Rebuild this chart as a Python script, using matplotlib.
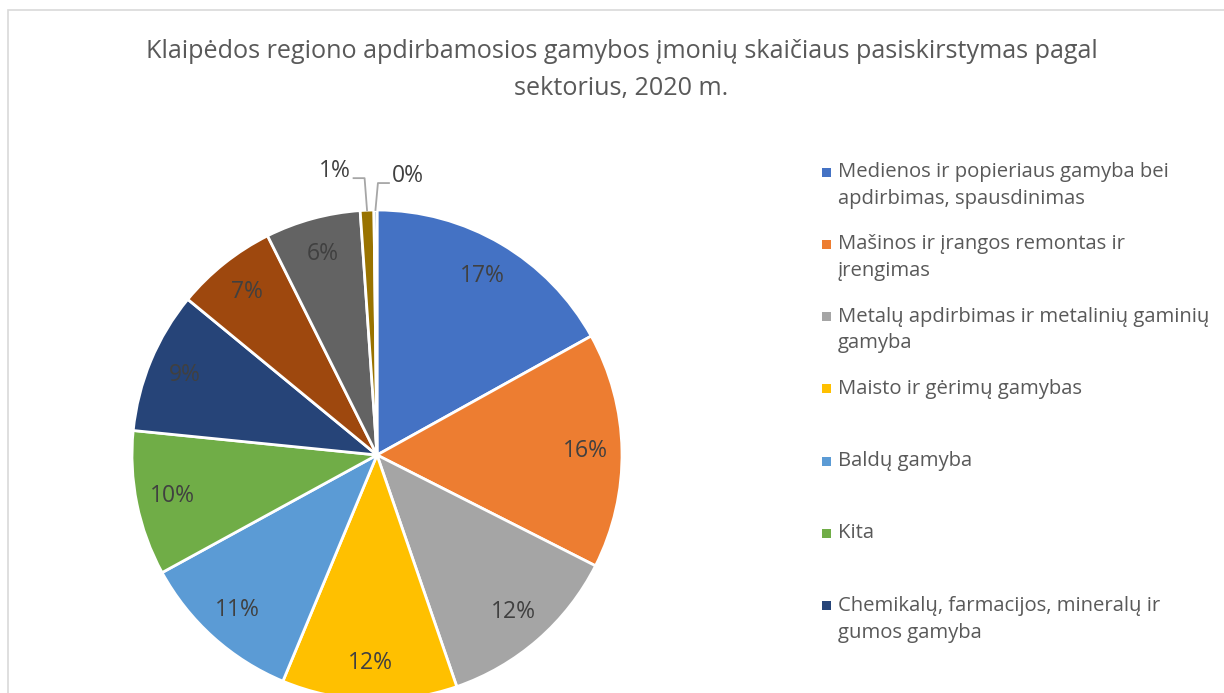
import matplotlib
matplotlib.use("Agg")
import matplotlib.pyplot as plt
from matplotlib.patches import Rectangle
import numpy as np

plt.rcParams['font.family'] = ['Open Sans', 'DejaVu Sans']

title = "Klaipėdos regiono apdirbamosios gamybos įmonių skaičiaus pasiskirstymas pagal\nsektorius, 2020 m."
values = [17.0, 15.6, 12.3, 11.6, 10.8, 9.6, 9.4, 6.7, 6.3, 0.9, 0.2]
colors = ['#4472C4', '#ED7D31', '#A5A5A5', '#FFC000', '#5B9BD5', '#70AD47',
          '#264478', '#9E480E', '#636363', '#997300', '#255E91']
legend_labels = [
    "Medienos ir popieriaus gamyba bei\napdirbimas, spausdinimas",
    "Mašinos ir įrangos remontas ir\nįrengimas",
    "Metalų apdirbimas ir metalinių gaminių\ngamyba",
    "Maisto ir gėrimų gamybas",
    "Baldų gamyba",
    "Kita",
    "Chemikalų, farmacijos, mineralų ir\ngumos gamyba",
]

W, H = 1224, 693
fig = plt.figure(figsize=(W / 100, H / 100), dpi=100)
fig.patch.set_facecolor('white')

# chart border
fig.patches.append(Rectangle((8 / W, -0.1), 1.2, (H - 10) / H + 0.1, transform=fig.transFigure,
                             fill=False, edgecolor='#D9D9D9', linewidth=1.2))

# title
fig.text(621.5 / W, 1 - 70 / H, title, ha='center', va='center', fontsize=18.1,
         color='#595959', linespacing=1.62)

# pie axes
R = 245
cx, cy = 377, H - 455
half = 300
ax = fig.add_axes([(cx - half) / W, (cy - half) / H, 2 * half / W, 2 * half / H])

wedges, _ = ax.pie(values, colors=colors, startangle=90, counterclock=False,
                   wedgeprops=dict(edgecolor='white', linewidth=2), radius=1.0)
lim = half / R
ax.set_xlim(-lim, lim)
ax.set_ylim(-lim, lim)
ax.set_aspect('equal')
ax.axis('off')
for w in wedges:
    w.set_clip_on(False)

total = sum(values)
for i, (w, v) in enumerate(zip(wedges, values)):
    pct = v / total * 100
    lab = f"{pct:.0f}%"
    mid = np.deg2rad((w.theta1 + w.theta2) / 2)
    if pct >= 2:
        ax.text(0.85 * np.cos(mid), 0.85 * np.sin(mid), lab, ha='center', va='center',
                fontsize=16.5, color='#404040', clip_on=False)
    else:
        ex, ey = np.cos(mid), np.sin(mid)
        side = -1 if i == len(values) - 2 else 1
        top = 1.13 if side < 0 else 1.11
        x2 = ex + side * 0.01
        x3 = x2 + side * 0.045
        ax.plot([ex, x2, x3], [ey, top, top], color='#A6A6A6', lw=1.3, clip_on=False)
        ax.text(x3 + side * 0.012, top + 0.028, lab, ha='right' if side < 0 else 'left',
                va='center', fontsize=16.5, color='#404040', clip_on=False)

# legend (manual)
y0 = 172
step = 72.3
for i, lab in enumerate(legend_labels):
    y = y0 + i * step
    fig.patches.append(Rectangle((822 / W, 1 - (y + 4.5) / H), 9 / W, 9 / H,
                                 transform=fig.transFigure, facecolor=colors[i], edgecolor='none'))
    fig.text(838 / W, 1 - (y - 10) / H, lab, ha='left', va='top', fontsize=14.6,
             color='#595959', linespacing=1.45)

fig.savefig('out.png', dpi=100)
